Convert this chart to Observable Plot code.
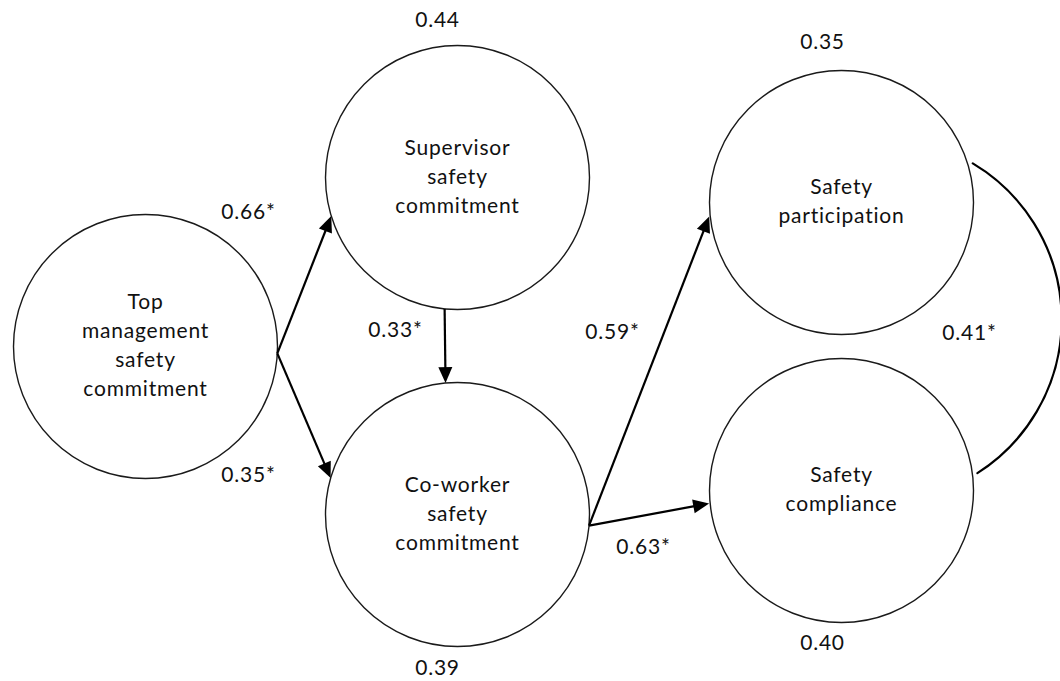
<!DOCTYPE html>
<html><head><meta charset="utf-8">
<script src="https://cdn.jsdelivr.net/npm/d3@7"></script>
<script src="https://cdn.jsdelivr.net/npm/@observablehq/plot@0.6"></script>
<style>
body{margin:0;background:#fff;}
#chart svg text{letter-spacing:0.8px;}
</style></head><body><div id="chart"></div>
<script>
// ---- data ----
const nodeIds = ["TM", "SUP", "CO", "PART", "COMP"];
const nodeLabels = ["Top\nmanagement\nsafety\ncommitment", "Supervisor\nsafety\ncommitment", "Co-worker\nsafety\ncommitment", "Safety\nparticipation", "Safety\ncompliance"];
const r2Nodes = ["SUP", "CO", "PART", "COMP"];
const r2Values = ["0.44", "0.39", "0.35", "0.40"];
const pathFrom = ["TM", "TM", "SUP", "CO", "CO"];
const pathTo = ["SUP", "CO", "CO", "PART", "COMP"];
const pathCoefficients = ["0.66*", "0.35*", "0.33*", "0.59*", "0.63*"];
const correlationPair = ["PART", "COMP"];
const correlationValue = "0.41*";

// ---- layout (diagram positions, pixels) ----
const nodeLayout = {
  TM: {x: 145, y: 346, r: 132},
  SUP: {x: 457, y: 177, r: 132},
  CO: {x: 457, y: 514, r: 132},
  PART: {x: 841, y: 202, r: 133},
  COMP: {x: 841, y: 490, r: 133}
};
const r2Layout = {SUP: [437, 20], CO: [437, 668], PART: [822, 42], COMP: [822, 643]};
// anchor angles (degrees) on source/target circles and label position
const pathLayout = [
  {a0: 3, a1: 163, lx: 248, ly: 212},
  {a0: 3, a1: 196, lx: 248, ly: 475},
  {a0: 95.6, a1: 264.8, lx: 395, ly: 330},
  {a0: 4.8, a1: 174, lx: 612, ly: 332},
  {a0: 4.8, a1: 174.4, lx: 643, ly: 547}
];
const corrLayout = {a0: -16.6, a1: -7.3, gap: 4, bend: 58.4, lx: 969, ly: 333};

const pt = (id, ang, extra = 0) => {
  const n = nodeLayout[id], t = ang * Math.PI / 180;
  return [n.x + (n.r + extra) * Math.cos(t), n.y + (n.r + extra) * Math.sin(t)];
};

const nodes = nodeIds.map((id, i) => ({id, label: nodeLabels[i], ...nodeLayout[id]}));
const r2 = r2Nodes.map((id, i) => ({value: r2Values[i], x: r2Layout[id][0], y: r2Layout[id][1]}));

const HEAD = 16;
const edges = pathFrom.map((f, i) => {
  const L = pathLayout[i];
  const [x1, y1] = pt(f, L.a0);
  const [tx, ty] = pt(pathTo[i], L.a1);
  const len = Math.hypot(tx - x1, ty - y1), ux = (tx - x1) / len, uy = (ty - y1) / len;
  return {
    x1, y1, x2: tx - ux * (HEAD - 4), y2: ty - uy * (HEAD - 4),
    tx, ty, rotate: Math.atan2(uy, ux) * 180 / Math.PI + 90,
    label: pathCoefficients[i], lx: L.lx, ly: L.ly
  };
});

const [cs, ce] = [pt(correlationPair[0], corrLayout.a0, corrLayout.gap), pt(correlationPair[1], corrLayout.a1, corrLayout.gap)];
const corr = [{x1: cs[0], y1: cs[1], x2: ce[0], y2: ce[1], label: correlationValue, lx: corrLayout.lx, ly: corrLayout.ly}];

const arrowHead = {
  draw(context) {
    context.moveTo(0, 0);
    context.lineTo(-7, HEAD);
    context.lineTo(7, HEAD);
    context.closePath();
  }
};

const font = {fontFamily: "Lato", fontSize: 21, fill: "#111"};

const chart = Plot.plot({
  width: 1060,
  height: 681,
  margin: 0,
  x: {domain: [0, 1060], range: [0, 1060], axis: null},
  y: {domain: [0, 681], range: [0, 681], axis: null},
  marks: [
    Plot.dot(nodes, {x: "x", y: "y", r: 132, stroke: "#1a1a1a", strokeWidth: 1.4, fill: "white"}),
    Plot.link(edges, {x1: "x1", y1: "y1", x2: "x2", y2: "y2", stroke: "#000", strokeWidth: 2.2}),
    Plot.dot(edges, {x: "tx", y: "ty", symbol: arrowHead, rotate: "rotate", fill: "#000", stroke: "none", r: 5}),
    Plot.arrow(corr, {x1: "x1", y1: "y1", x2: "x2", y2: "y2", bend: corrLayout.bend, headLength: 0, stroke: "#000", strokeWidth: 2.2}),
    Plot.text(nodes, {x: "x", y: "y", text: "label", lineHeight: 1.38, dy: -3, ...font}),
    Plot.text(r2, {x: "x", y: "y", text: "value", ...font}),
    Plot.text(edges, {x: "lx", y: "ly", text: "label", ...font}),
    Plot.text(corr, {x: "lx", y: "ly", text: "label", ...font})
  ]
});
document.getElementById("chart").appendChild(chart);
</script>
</body></html>
